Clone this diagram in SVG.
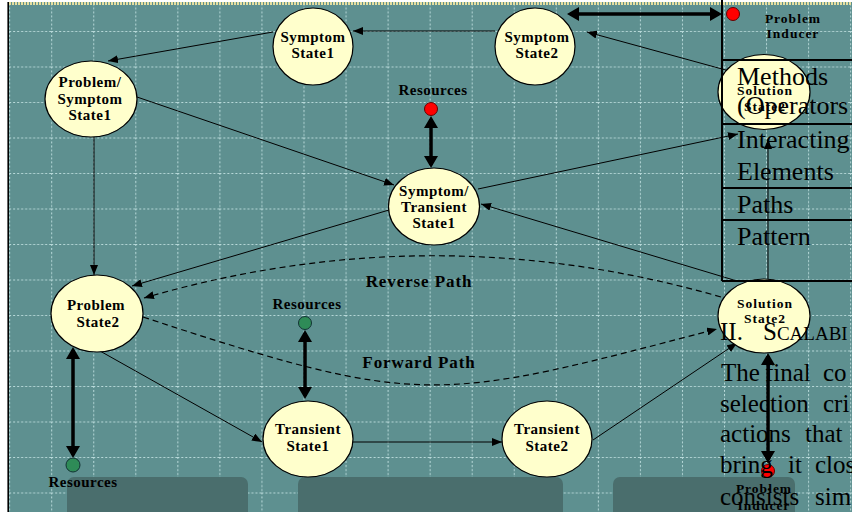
<svg xmlns="http://www.w3.org/2000/svg" width="852" height="512" viewBox="0 0 852 512">
<defs>
<style>
.node ellipse{fill:#FFFFCC;stroke:#000;stroke-width:1.2}
.lbl{font-family:"Liberation Serif","Times New Roman",serif;font-weight:bold;font-size:15px;letter-spacing:0.5px;text-anchor:middle;fill:#000}
.sm{font-size:13.5px;letter-spacing:1px}
.pl{font-size:17px;letter-spacing:0.9px}
.c{fill:none;stroke:#000;stroke-width:1}
.ca{marker-end:url(#ah)}
.thick{fill:none;stroke:#000;stroke-width:3.5;marker-start:url(#ahb);marker-end:url(#ahb)}
.dash{fill:none;stroke:#000;stroke-width:1.2;stroke-dasharray:6 4;marker-end:url(#ah)}
.doc{font-family:"Liberation Serif","Times New Roman",serif;font-size:26px;fill:#000}
.par{font-family:"Liberation Serif","Times New Roman",serif;font-size:25px;fill:#000}
.tbl{fill:none;stroke:#000;stroke-width:2}
.red{fill:#FF0000;stroke:#600;stroke-width:1}
.grn{fill:#2E8B57;stroke:#133;stroke-width:1}
.box{fill:#4A6E6D}
</style>
<marker id="ah" markerWidth="10" markerHeight="8" refX="10" refY="4" orient="auto-start-reverse" markerUnits="userSpaceOnUse"><path d="M0,0 L10,4 L0,8 z" fill="#000"/></marker>
<marker id="ahb" markerWidth="12" markerHeight="14" refX="9" refY="7" orient="auto-start-reverse" markerUnits="userSpaceOnUse"><path d="M0,0 L12,7 L0,14 z" fill="#000"/></marker>
<pattern id="grid" x="51.2" y="31" width="42.05" height="35.5" patternUnits="userSpaceOnUse">
<path d="M0,0.5 H42.05 M0.5,0 V35.5" stroke="#B9DADA" stroke-width="1" stroke-dasharray="2 2" fill="none"/>
</pattern>
</defs>
<rect x="0" y="0" width="852" height="512" fill="#FFFFFF"/>
<rect x="9" y="2" width="843" height="510" fill="#5E9090"/>
<rect x="9" y="5" width="843" height="507" fill="url(#grid)"/>
<line x1="9" y1="3.5" x2="852" y2="3.5" stroke="#E6DFA0" stroke-width="3" stroke-dasharray="2 1"/>
<line x1="8.2" y1="2" x2="8.2" y2="512" stroke="#000" stroke-width="1.6"/>
<g id="panels">
<rect class="box" x="67" y="477" width="181" height="50" rx="7"/>
<rect class="box" x="298" y="477" width="265" height="50" rx="7"/>
<rect class="box" x="613" y="477" width="182" height="50" rx="7"/>
</g>
<g id="connectors">
<line class="c ca" x1="495" y1="31" x2="353" y2="31"/>
<line class="c ca" x1="273" y1="32" x2="108" y2="61"/>
<line class="c ca" x1="137" y1="97" x2="394" y2="185"/>
<line class="c ca" x1="94" y1="137" x2="94" y2="275"/>
<line class="c ca" x1="389" y1="210" x2="132" y2="286"/>
<line class="c ca" x1="478" y1="189" x2="738" y2="134"/>
<line class="c ca" x1="737" y1="281" x2="481" y2="204"/>
<line class="c ca" x1="733" y1="72" x2="587" y2="32"/>
<line class="c ca" x1="768" y1="279" x2="768" y2="139"/>
<line class="c ca" x1="100" y1="351" x2="262" y2="442"/>
<line class="c ca" x1="353" y1="442" x2="502" y2="442"/>
<line class="c ca" x1="593" y1="440" x2="737" y2="343"/>
<path class="dash" d="M721,297 Q432,214 144,298"/>
<path class="dash" d="M143,317 C423,409 437,402 717,329"/>
<line class="thick" x1="570" y1="14" x2="719" y2="14"/>
<line class="thick" x1="431" y1="119" x2="431" y2="165"/>
<line class="thick" x1="305" y1="333" x2="305" y2="396"/>
<line class="thick" x1="73" y1="350" x2="73" y2="455"/>
<line class="thick" x1="768" y1="356" x2="768" y2="460"/>
</g>
<g id="symptom-state1" class="node"><ellipse cx="313" cy="46.5" rx="40" ry="38.5"/><text class="lbl" x="313" y="42">Symptom</text><text class="lbl" x="313" y="58">State1</text></g>
<g id="symptom-state2" class="node"><ellipse cx="535" cy="46.5" rx="40" ry="38.5"/><text class="lbl" x="537" y="42">Symptom</text><text class="lbl" x="537" y="58">State2</text></g>
<g id="problem-symptom-state1" class="node"><ellipse cx="91" cy="99" rx="46" ry="38"/><text class="lbl" x="90" y="87">Problem/</text><text class="lbl" x="90" y="104">Symptom</text><text class="lbl" x="90" y="120">State1</text></g>
<g id="symptom-transient-state1" class="node"><ellipse cx="434" cy="206.5" rx="45.5" ry="38.5"/><text class="lbl" x="434" y="196">Symptom/</text><text class="lbl" x="434" y="212">Transient</text><text class="lbl" x="434" y="228">State1</text></g>
<g id="problem-state2" class="node"><ellipse cx="97" cy="313.5" rx="46" ry="38.5"/><text class="lbl" x="96" y="310">Problem</text><text class="lbl" x="98" y="327">State2</text></g>
<g id="transient-state1" class="node"><ellipse cx="308" cy="439" rx="45" ry="38"/><text class="lbl" x="308" y="434">Transient</text><text class="lbl" x="308" y="451">State1</text></g>
<g id="transient-state2" class="node"><ellipse cx="547" cy="439" rx="45" ry="38"/><text class="lbl" x="547" y="434">Transient</text><text class="lbl" x="547" y="451">State2</text></g>
<g id="solution-state2-top" class="node"><ellipse cx="764" cy="92" rx="46" ry="37.5"/><text class="lbl sm" x="765" y="95">Solution</text><text class="lbl sm" x="765" y="111">State2</text></g>
<g id="solution-state2-bottom" class="node"><ellipse cx="764" cy="316" rx="46" ry="37"/><text class="lbl sm" x="765" y="308">Solution</text><text class="lbl sm" x="765" y="323">State2</text></g>
<g id="resources-top"><circle class="red" cx="431" cy="109" r="6.5"/><text class="lbl" x="433" y="95">Resources</text></g>
<g id="resources-mid"><circle class="grn" cx="305" cy="323" r="6.5"/><text class="lbl" x="307" y="309">Resources</text></g>
<g id="resources-bottom"><circle class="grn" cx="73" cy="465" r="7"/><text class="lbl" x="83" y="487">Resources</text></g>
<g id="problem-inducer-top"><circle class="red" cx="733" cy="14" r="6.5"/><text class="lbl sm" x="793" y="23">Problem</text><text class="lbl sm" x="793" y="38">Inducer</text></g>
<g id="problem-inducer-bottom"><circle class="red" cx="768" cy="471" r="6.5"/><text class="lbl sm" x="764" y="493">Problem</text><text class="lbl sm" x="764" y="510">Inducer</text></g>
<g id="path-labels"><text class="lbl pl" x="419" y="287">Reverse Path</text><text class="lbl pl" x="419" y="368">Forward Path</text></g>
<g id="table">
<line class="tbl" x1="722" y1="0" x2="722" y2="281"/>
<line class="tbl" x1="722" y1="60" x2="852" y2="60"/>
<line class="tbl" x1="722" y1="124" x2="852" y2="124"/>
<line class="tbl" x1="722" y1="188" x2="852" y2="188"/>
<line class="tbl" x1="722" y1="220" x2="852" y2="220"/>
<line class="tbl" x1="722" y1="281" x2="852" y2="281"/>
<text class="doc" x="737" y="85">Methods</text>
<text class="doc" x="737" y="114">(Operators</text>
<text class="doc" x="737" y="148">Interacting</text>
<text class="doc" x="737" y="180">Elements</text>
<text class="doc" x="737" y="213">Paths</text>
<text class="doc" x="737" y="245">Pattern</text>
</g>
<g id="document-text">
<text class="par" x="720" y="340" font-size="24">II.<tspan x="763">S</tspan><tspan font-size="19">CALABI</tspan></text>
<text class="par" y="381"><tspan x="721">The</tspan><tspan x="765">final</tspan><tspan x="823">co</tspan></text>
<text class="par" y="412"><tspan x="720">selection</tspan><tspan x="823">cri</tspan></text>
<text class="par" y="442"><tspan x="720">actions</tspan><tspan x="805">that</tspan></text>
<text class="par" y="473"><tspan x="720">bring</tspan><tspan x="788">it</tspan><tspan x="815">clos</tspan></text>
<text class="par" y="505"><tspan x="720">consists</tspan><tspan x="815">sim</tspan></text>
</g>
</svg>
